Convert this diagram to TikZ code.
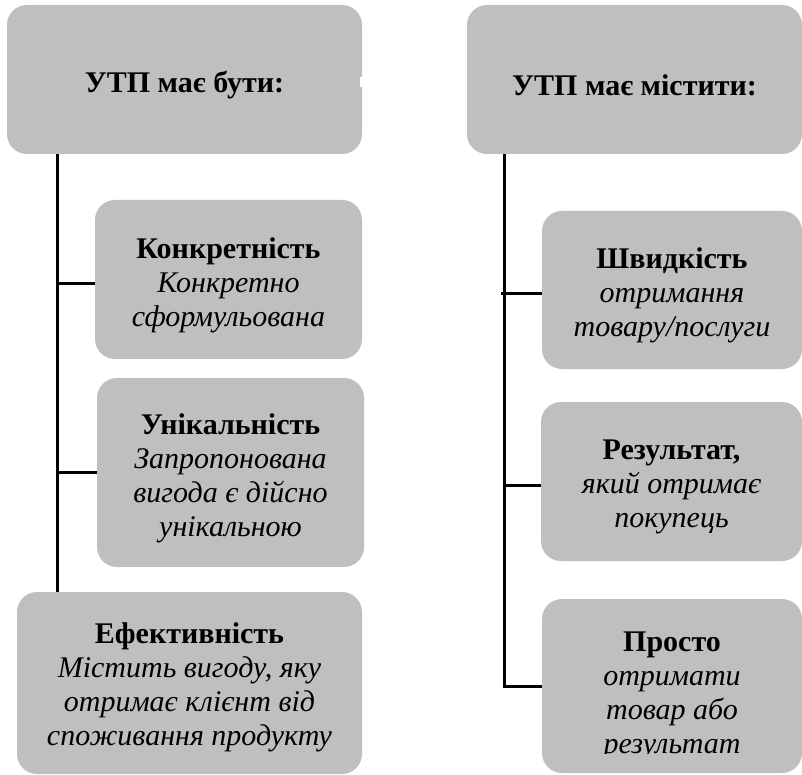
\documentclass[tikz,border=0pt]{standalone}
\usepackage{fontspec}
\setmainfont{Liberation Serif}
\definecolor{boxgray}{RGB}{191,191,191}
\tikzset{
  box/.style={fill=boxgray, draw=none, rounded corners=10pt, inner sep=0pt},
  txt/.style={align=center, inner sep=0pt, font=\fontsize{15}{17}\selectfont},
  link/.style={draw=black, line width=1.5pt},
}
\begin{document}
\begin{tikzpicture}[x=0.5pt,y=-0.5pt]
\useasboundingbox (0,0) rectangle (802,775);
% boxes
\node[box, minimum width=177.5pt, minimum height=74.5pt] (a) at (184.5,79.5) {};
\node[box, minimum width=167.5pt, minimum height=74.5pt] (b) at (634.5,79.5) {};
\node[box, minimum width=133.5pt, minimum height=79.5pt] (k) at (228.5,279.5) {};
\node[box, minimum width=133.5pt, minimum height=94.5pt] (u) at (230.5,472.5) {};
\node[box, minimum width=172.5pt, minimum height=91pt] (e) at (189.5,683) {};
\node[box, minimum width=130pt, minimum height=79pt] (s) at (672,290) {};
\node[box, minimum width=130.5pt, minimum height=79.5pt] (r) at (671.5,481.5) {};
\node[box, minimum width=130pt, minimum height=87pt] (p) at (672,686) {};
% texts
\node[txt] (at) at ([yshift=-3pt]a.center) {\textbf{УТП має бути:}};
\node[txt] (bt) at ([yshift=-3pt]b.center) {\textbf{УТП має містити:}};
\node[txt] (kt) at ([yshift=-2.7pt]k.center)
  {\textbf{Конкретність}\\\textit{Конкретно}\\\textit{сформульована}};
\node[txt] (ut) at ([yshift=-2.7pt]u.center)
  {\textbf{Унікальність}\\\textit{Запропонована}\\\textit{вигода є дійсно}\\\textit{унікальною}};
\node[txt] (et) at ([yshift=-2pt]e.center)
  {\textbf{Ефективність}\\\textit{Містить вигоду, яку}\\\textit{отримає клієнт від}\\\textit{споживання продукту}};
\node[txt] (st) at ([yshift=-2.7pt]s.center)
  {\textbf{Швидкість}\\\textit{отримання}\\\textit{товару/послуги}};
\node[txt] (rt) at ([yshift=-2.7pt]r.center)
  {\textbf{Результат,}\\\textit{який отримає}\\\textit{покупець}};
\begin{scope}
  \clip (542,599) rectangle (802,753);
  \node[txt, anchor=north] (pt) at (672,631)
    {\textbf{Просто}\\\textit{отримати}\\\textit{товар або}\\\textit{результат}};
\end{scope}
% small white notch
\fill[white] (360,77) rectangle (364,87);
% connectors
\coordinate (tl) at (57,0);
\coordinate (tr) at (504,0);
\draw[link] (a.south -| tl) -- (e.north -| tl);
\draw[link] ([yshift=-2pt]k.west) -- ([yshift=-2pt]k.west -| tl);
\draw[link] (u.west) -- (u.west -| tl);
\draw[link] (b.south -| tr) |- (p.west);
\draw[link] ([yshift=-1.5pt]s.west) -- ([xshift=-1.5pt,yshift=-1.5pt]s.west -| tr);
\draw[link] ([yshift=-2pt]r.west) -- ([yshift=-2pt]r.west -| tr);
\end{tikzpicture}
\end{document}
